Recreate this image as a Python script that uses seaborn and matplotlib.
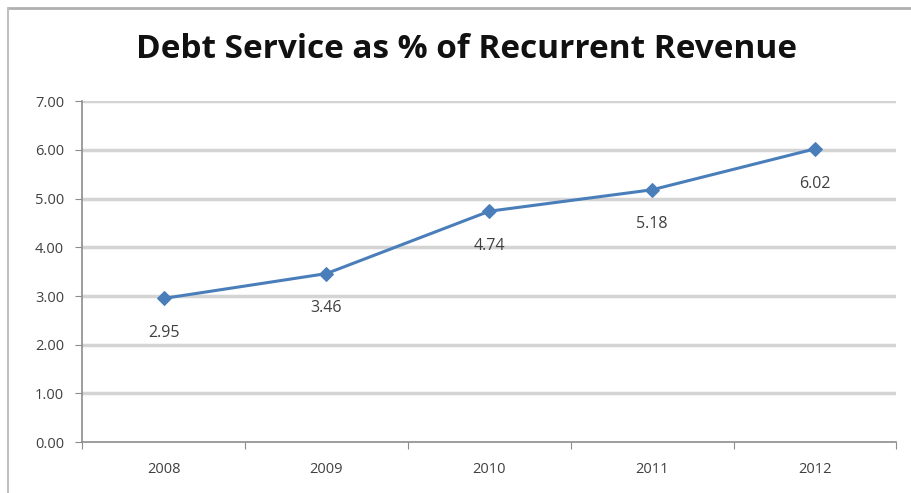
import matplotlib
matplotlib.use("Agg")
import matplotlib.pyplot as plt
import seaborn as sns
import pandas as pd
from matplotlib.lines import Line2D
from matplotlib.ticker import FixedLocator, NullFormatter

years = [2008, 2009, 2010, 2011, 2012]
values = [2.95, 3.46, 4.74, 5.18, 6.02]
title = "Debt Service as % of Recurrent Revenue"

df = pd.DataFrame({"year": years, "value": values})

sns.set_style("white")
plt.rcParams["font.family"] = ["Open Sans", "DejaVu Sans"]

fig = plt.figure(figsize=(9.12, 4.93), dpi=100)
ax = fig.add_axes([0.09, 0.103, 0.893, 0.692])

# screenshot frame (top and left edges only)
fx, fy = 8 / 912, 1 - 8 / 493
fig.lines.append(Line2D([fx, 1], [fy, fy], transform=fig.transFigure, color="#b0b0b0", linewidth=2))
fig.lines.append(Line2D([fx, fx], [0, fy], transform=fig.transFigure, color="#c0c0c0", linewidth=1.5))

for yv in range(1, 8):
    ax.axhline(yv, color="#d4d4d4", linewidth=2.5, zorder=0)

sns.lineplot(data=df, x="year", y="value", ax=ax, color="#4a7ebb", linewidth=2.2,
             marker="D", markersize=7, markeredgecolor="#4a7ebb")

for x, v in zip(years, values):
    ax.annotate(f"{v:.2f}", (x, v), xytext=(0, -25), textcoords="offset points",
                ha="center", va="center", fontsize=11.5, color="#404040")

ax.set_xlim(2007.5, 2012.5)
ax.set_ylim(0, 7)
ax.set_yticks(range(0, 8))
ax.set_yticklabels([f"{v:.2f}" for v in range(0, 8)])
ax.xaxis.set_major_locator(FixedLocator([2007.5 + i for i in range(6)]))
ax.xaxis.set_major_formatter(NullFormatter())
ax.xaxis.set_minor_locator(FixedLocator(years))
ax.set_xticklabels([str(y) for y in years], minor=True)
ax.tick_params(axis="x", which="major", length=5, color="#8c8c8c", direction="out", bottom=True)
ax.tick_params(axis="x", which="minor", length=0, pad=14, labelsize=10.5, labelcolor="#404040")
ax.tick_params(axis="y", length=5, color="#8c8c8c", direction="out", left=True, labelsize=10.5,
               labelcolor="#404040", pad=8)
ax.set_xlabel("")
ax.set_ylabel("")
for s in ["top", "right"]:
    ax.spines[s].set_visible(False)
for s in ["left", "bottom"]:
    ax.spines[s].set_color("#8c8c8c")
    ax.spines[s].set_linewidth(1.2)

fig.text(0.511, 0.899, title, ha="center", va="center", fontsize=24, fontweight="bold", color="#111111")

fig.savefig("out.png", dpi=100)
